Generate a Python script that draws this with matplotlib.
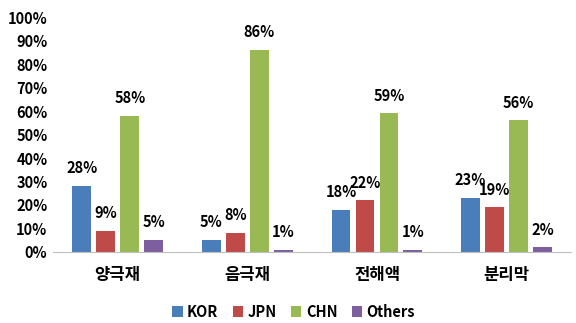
import matplotlib
matplotlib.use("Agg")
import matplotlib.pyplot as plt
import numpy as np
from matplotlib.ticker import FuncFormatter

plt.rcParams['font.family'] = ['Noto Sans CJK KR', 'DejaVu Sans']

categories = ['양극재', '음극재', '전해액', '분리막']
series_names = ['KOR', 'JPN', 'CHN', 'Others']
kor = [28, 5, 18, 23]
jpn = [9, 8, 22, 19]
chn = [58, 86, 59, 56]
others = [5, 1, 1, 2]
colors = ['#4A7EBB', '#BE4B48', '#98B954', '#7D5FA0']

fig = plt.figure(figsize=(5.76, 3.23), dpi=100)
ax = fig.add_axes([0.092, 0.22, 0.9, 0.727])

x = np.arange(len(categories))
step = 0.185
width = 0.146
for i, (name, vals) in enumerate(zip(series_names, [kor, jpn, chn, others])):
    pos = x + (i - 1.5) * step
    ax.bar(pos, vals, width=width, color=colors[i], label=name, zorder=2)
    for p, v in zip(pos, vals):
        ax.annotate(f'{v}%', (p, v), xytext=(0, 7), textcoords='offset points',
                    ha='center', va='bottom', fontsize=10.5, fontweight='bold')

ax.set_ylim(0, 100)
ax.set_xlim(-0.5, 3.5)
ax.set_yticks(range(0, 101, 10))
ax.yaxis.set_major_formatter(FuncFormatter(lambda v, p: f'{int(v)}%'))
ax.set_xticks(x)
ax.set_xticklabels(categories)
for lbl in ax.get_yticklabels():
    lbl.set_fontweight('bold')
    lbl.set_fontsize(10.5)
for lbl in ax.get_xticklabels():
    lbl.set_fontweight('bold')
    lbl.set_fontsize(12)
ax.tick_params(axis='both', length=0)
ax.tick_params(axis='x', pad=10)
ax.tick_params(axis='y', pad=4)
for s in ['top', 'right', 'left']:
    ax.spines[s].set_visible(False)
ax.spines['bottom'].set_color('#BFBFBF')

leg = fig.legend(loc='lower center', bbox_to_anchor=(0.51, -0.03), ncol=4, frameon=False,
                 handlelength=0.7, handleheight=0.7, handletextpad=0.3, columnspacing=1.0,
                 prop={'weight': 'bold', 'size': 10.5})

fig.savefig('out.png', dpi=100)
